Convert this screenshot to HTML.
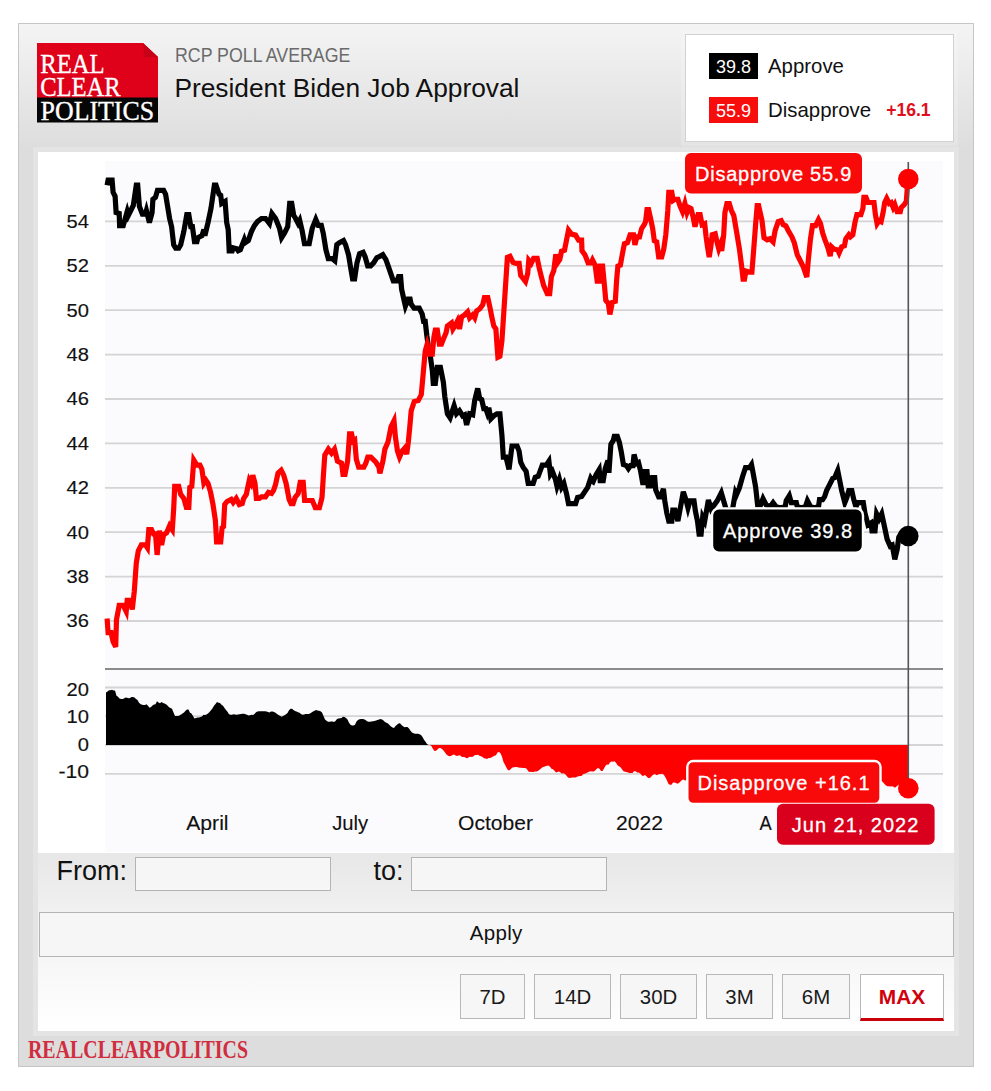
<!DOCTYPE html>
<html><head><meta charset="utf-8"><title>RCP Poll Average - President Biden Job Approval</title>
<style>
html,body{margin:0;padding:0;background:#fff;}
body{width:991px;height:1091px;position:relative;overflow:hidden;font-family:"Liberation Sans",sans-serif;color:#111;}
.wrap{position:absolute;left:18px;top:23px;width:956px;height:1044px;box-sizing:border-box;border:1px solid #c6c6c6;background:linear-gradient(to bottom,#f4f4f4 0px,#dddddd 125px,#dddddd 100%);}
.logo{position:absolute;left:37px;top:43px;}
.sub{position:absolute;left:174.6px;top:43.5px;font-size:19.8px;line-height:22px;color:#6a6a6a;white-space:nowrap;transform:scaleX(0.8976);transform-origin:0 0;}

.title{position:absolute;left:174.4px;top:71.5px;font-size:26.3px;line-height:32px;color:#111;white-space:nowrap;}
.legend{position:absolute;left:685px;top:34px;width:269px;height:108px;box-sizing:border-box;border:1px solid #d2d2d2;background:#fff;box-shadow:0 0 0 4px rgba(255,255,255,0.2);}
.lg{position:absolute;left:23px;height:26px;white-space:nowrap;}
.lg .v{display:inline-block;width:49px;height:26px;line-height:29px;text-align:center;color:#fff;font-size:18px;vertical-align:top;overflow:hidden;}
.lg .n{display:inline-block;margin-left:10px;font-size:20.4px;line-height:26px;vertical-align:top;color:#111;}
.lg .s{display:inline-block;margin-left:15px;font-size:17.6px;font-weight:bold;line-height:26.5px;vertical-align:top;color:#e0101a;}
.panel{position:absolute;left:38px;top:152px;width:915.5px;height:879px;box-sizing:border-box;background:#fff;box-shadow:0 0 0 5px rgba(255,255,255,0.22);}
.controls{position:absolute;left:38px;top:853.4px;width:915.5px;height:177.6px;background:linear-gradient(to bottom,#e7e7e7 0,#f1f1f1 60px,#ffffff 100%);}
.chart{position:absolute;left:0;top:0;}
.lab{position:absolute;font-size:27px;line-height:30px;color:#111;}
.inp{position:absolute;top:857px;width:196px;height:34px;box-sizing:border-box;border:1px solid #b4b4b4;background:#f6f6f6;}
.apply{position:absolute;left:38.5px;top:912px;width:915.5px;height:45px;box-sizing:border-box;border:1px solid #b4b4b4;background:#f6f6f6;text-align:center;font-size:20.5px;line-height:40.6px;letter-spacing:.3px;color:#111;}
.btn{position:absolute;top:974px;height:45px;box-sizing:border-box;border:1px solid #b8b8b8;background:#f6f6f6;text-align:center;font-size:20.4px;line-height:44.6px;color:#1a1a1a;}
.btn.max{border:1px solid #b8b8b8;border-bottom:3.4px solid #c9000a;background:#fff;color:#d0000c;font-weight:bold;font-size:20.9px;line-height:44.6px;}
.foot{position:absolute;left:28px;top:1036.2px;font-family:"Liberation Serif",serif;font-weight:bold;font-size:24.5px;line-height:28px;color:#d02d3f;white-space:nowrap;transform:scaleX(0.812);transform-origin:0 0;}
</style></head>
<body>
<div class="wrap"></div>
<svg class="logo" width="121" height="80" viewBox="0 0 121 80">
<path d="M0,0 H106 L121,14 V55 H0 Z" fill="#df0019"/>
<path d="M106,0 L121,14 H107.5 Z" fill="#c50017"/>
<rect x="0" y="54.5" width="121" height="25" fill="#060606"/>
<g font-family="Liberation Serif, serif" font-size="27.2" fill="#fff" stroke="#fff" stroke-width="0.35">
<text x="3.2" y="30.1" textLength="64.5" lengthAdjust="spacingAndGlyphs">REAL</text>
<text x="3.2" y="53.1" textLength="80.5" lengthAdjust="spacingAndGlyphs">CLEAR</text>
<text x="3.6" y="76.7" textLength="113.5" lengthAdjust="spacingAndGlyphs">POLITICS</text>
</g>
</svg>
<div class="sub">RCP POLL AVERAGE</div>
<div class="title">President Biden Job Approval</div>
<div class="legend">
 <div class="lg" style="top:18px"><span class="v" style="background:#000">39.8</span><span class="n">Approve</span></div>
 <div class="lg" style="top:62px"><span class="v" style="background:#f80d0d">55.9</span><span class="n">Disapprove</span><span class="s">+16.1</span></div>
</div>
<div class="panel"></div>
<div class="controls"></div>
<svg class="chart" width="991" height="1091" viewBox="0 0 991 1091">
<defs>
<clipPath id="cpos"><rect x="100" y="670" width="850" height="75.0"/></clipPath>
<clipPath id="cneg"><rect x="100" y="745.0" width="850" height="100"/></clipPath>
</defs>
<rect x="105" y="161" width="838" height="691" fill="#fbfbfe"/>
<g stroke="#d4d4d4" stroke-width="1.8"><line x1="105" x2="943" y1="621.0" y2="621.0"/><line x1="105" x2="943" y1="576.6" y2="576.6"/><line x1="105" x2="943" y1="532.2" y2="532.2"/><line x1="105" x2="943" y1="487.8" y2="487.8"/><line x1="105" x2="943" y1="443.4" y2="443.4"/><line x1="105" x2="943" y1="399.0" y2="399.0"/><line x1="105" x2="943" y1="354.6" y2="354.6"/><line x1="105" x2="943" y1="310.2" y2="310.2"/><line x1="105" x2="943" y1="265.8" y2="265.8"/><line x1="105" x2="943" y1="221.4" y2="221.4"/><line x1="105" x2="943" y1="687.5" y2="687.5"/><line x1="105" x2="943" y1="716.2" y2="716.2"/><line x1="105" x2="943" y1="745.0" y2="745.0"/><line x1="105" x2="943" y1="773.8" y2="773.8"/></g>
<line x1="105" x2="943" y1="669" y2="669" stroke="#666" stroke-width="1.6"/>
<g font-family="Liberation Sans, sans-serif" font-size="18" fill="#111" stroke="#111" stroke-width="0.15"><text x="89" y="627.3" text-anchor="end" textLength="22.4" lengthAdjust="spacingAndGlyphs">36</text><text x="89" y="582.9" text-anchor="end" textLength="22.4" lengthAdjust="spacingAndGlyphs">38</text><text x="89" y="538.5" text-anchor="end" textLength="22.4" lengthAdjust="spacingAndGlyphs">40</text><text x="89" y="494.1" text-anchor="end" textLength="22.4" lengthAdjust="spacingAndGlyphs">42</text><text x="89" y="449.7" text-anchor="end" textLength="22.4" lengthAdjust="spacingAndGlyphs">44</text><text x="89" y="405.3" text-anchor="end" textLength="22.4" lengthAdjust="spacingAndGlyphs">46</text><text x="89" y="360.9" text-anchor="end" textLength="22.4" lengthAdjust="spacingAndGlyphs">48</text><text x="89" y="316.5" text-anchor="end" textLength="22.4" lengthAdjust="spacingAndGlyphs">50</text><text x="89" y="272.1" text-anchor="end" textLength="22.4" lengthAdjust="spacingAndGlyphs">52</text><text x="89" y="227.7" text-anchor="end" textLength="22.4" lengthAdjust="spacingAndGlyphs">54</text><text x="89" y="696.0" text-anchor="end" textLength="22.4" lengthAdjust="spacingAndGlyphs">20</text><text x="89" y="723.3" text-anchor="end" textLength="22.4" lengthAdjust="spacingAndGlyphs">10</text><text x="89" y="750.6" text-anchor="end" textLength="11.2" lengthAdjust="spacingAndGlyphs">0</text><text x="89" y="777.9" text-anchor="end" textLength="30.5" lengthAdjust="spacingAndGlyphs">-10</text></g>
<g font-family="Liberation Sans, sans-serif" font-size="19.4" fill="#111" stroke="#111" stroke-width="0.12"><text x="186.2" y="829.5" textLength="42.4" lengthAdjust="spacingAndGlyphs">April</text><text x="332.2" y="829.5" textLength="36" lengthAdjust="spacingAndGlyphs">July</text><text x="458.0" y="829.5" textLength="75" lengthAdjust="spacingAndGlyphs">October</text><text x="616.0" y="829.5" textLength="47" lengthAdjust="spacingAndGlyphs">2022</text><text x="759.5" y="829.5" textLength="12.2" lengthAdjust="spacingAndGlyphs">A</text></g>
<path d="M106.0,745.0 L106.0,692.5 L107.5,691.6 L109.0,690.2 L110.5,690.2 L112.0,689.7 L113.5,690.5 L115.0,690.6 L116.5,695.7 L118.0,696.7 L119.5,698.6 L121.0,699.0 L122.5,699.0 L124.0,698.4 L125.5,697.4 L127.0,697.7 L128.5,698.3 L130.0,697.9 L131.5,696.9 L133.0,696.9 L134.5,697.6 L136.0,699.0 L137.5,700.1 L139.0,702.8 L140.5,704.1 L142.0,704.8 L143.5,704.9 L145.0,704.9 L146.5,704.3 L148.0,705.8 L149.5,707.7 L151.0,707.1 L152.5,705.5 L154.0,704.4 L155.5,704.2 L157.0,701.2 L158.5,702.5 L160.0,703.3 L161.5,702.1 L163.0,702.9 L164.5,703.6 L166.0,704.2 L167.5,705.6 L169.0,707.2 L170.5,708.1 L172.0,708.7 L173.5,712.5 L175.0,716.0 L176.5,716.1 L178.0,716.1 L179.5,715.6 L181.0,714.6 L182.5,713.5 L184.0,712.4 L185.5,710.8 L187.0,709.5 L188.5,709.5 L190.0,712.8 L191.5,713.5 L193.0,716.0 L194.5,718.4 L196.0,718.1 L197.5,717.6 L199.0,717.4 L200.5,717.1 L202.0,716.6 L203.5,714.7 L205.0,715.1 L206.5,714.5 L208.0,713.4 L209.5,711.9 L211.0,710.3 L212.5,708.2 L214.0,705.8 L215.5,704.1 L217.0,702.1 L218.5,702.7 L220.0,703.0 L221.5,704.8 L223.0,705.7 L224.5,707.9 L226.0,709.9 L227.5,711.7 L229.0,714.2 L230.5,714.8 L232.0,714.7 L233.5,714.2 L235.0,714.5 L236.5,714.7 L238.0,714.5 L239.5,714.2 L241.0,714.0 L242.5,713.7 L244.0,713.8 L245.5,714.3 L247.0,714.8 L248.5,715.4 L250.0,715.2 L251.5,714.7 L253.0,715.0 L254.5,714.0 L256.0,712.2 L257.5,711.5 L259.0,711.3 L260.5,711.3 L262.0,711.3 L263.5,711.3 L265.0,711.3 L266.5,711.6 L268.0,712.1 L269.5,712.4 L271.0,711.6 L272.5,711.4 L274.0,711.9 L275.5,712.7 L277.0,714.0 L278.5,715.1 L280.0,715.8 L281.5,716.7 L283.0,716.1 L284.5,715.3 L286.0,714.3 L287.5,713.0 L289.0,710.2 L290.5,708.8 L292.0,708.8 L293.5,710.1 L295.0,711.0 L296.5,711.6 L298.0,712.2 L299.5,712.8 L301.0,713.9 L302.5,714.7 L304.0,714.5 L305.5,713.9 L307.0,713.9 L308.5,713.9 L310.0,713.4 L311.5,712.5 L313.0,711.6 L314.5,710.7 L316.0,710.1 L317.5,710.6 L319.0,710.8 L320.5,711.3 L322.0,712.4 L323.5,716.0 L325.0,719.5 L326.5,720.7 L328.0,721.7 L329.5,721.8 L331.0,721.5 L332.5,721.6 L334.0,722.0 L335.5,721.0 L337.0,719.0 L338.5,718.5 L340.0,718.3 L341.5,718.1 L343.0,716.7 L344.5,716.9 L346.0,718.0 L347.5,719.5 L349.0,722.7 L350.5,724.8 L352.0,725.6 L353.5,725.4 L355.0,724.7 L356.5,721.5 L358.0,720.1 L359.5,719.2 L361.0,719.1 L362.5,719.0 L364.0,719.2 L365.5,720.1 L367.0,721.2 L368.5,721.8 L370.0,721.8 L371.5,721.6 L373.0,721.3 L374.5,720.9 L376.0,720.4 L377.5,719.9 L379.0,719.4 L380.5,719.0 L382.0,719.6 L383.5,720.6 L385.0,721.9 L386.5,722.7 L388.0,723.6 L389.5,725.0 L391.0,726.5 L392.5,727.4 L394.0,728.0 L395.5,726.0 L397.0,724.8 L398.5,723.5 L400.0,723.3 L401.5,725.0 L403.0,726.3 L404.5,727.3 L406.0,727.1 L407.5,727.1 L409.0,728.5 L410.5,730.8 L412.0,732.5 L413.5,733.3 L415.0,733.7 L416.5,733.8 L418.0,733.8 L419.5,734.2 L421.0,734.9 L422.5,737.1 L424.0,739.8 L425.5,741.8 L427.0,744.0 L428.5,744.9 L430.0,745.1 L431.5,746.3 L433.0,749.0 L434.5,751.0 L436.0,750.8 L437.5,749.4 L439.0,748.1 L440.5,747.9 L442.0,749.0 L443.5,750.4 L445.0,752.6 L446.5,754.4 L448.0,755.8 L449.5,756.2 L451.0,756.1 L452.5,755.1 L454.0,754.5 L455.5,755.4 L457.0,756.1 L458.5,755.5 L460.0,755.3 L461.5,756.7 L463.0,757.1 L464.5,757.1 L466.0,758.1 L467.5,758.3 L469.0,757.1 L470.5,756.8 L472.0,757.0 L473.5,756.3 L475.0,755.0 L476.5,754.9 L478.0,754.7 L479.5,755.7 L481.0,756.2 L482.5,756.9 L484.0,758.2 L485.5,758.5 L487.0,758.9 L488.5,758.1 L490.0,757.9 L491.5,757.4 L493.0,756.4 L494.5,755.7 L496.0,755.2 L497.5,752.5 L499.0,751.9 L500.5,753.3 L502.0,756.7 L503.5,762.0 L505.0,764.8 L506.5,767.8 L508.0,770.2 L509.5,770.3 L511.0,768.7 L512.5,767.4 L514.0,767.2 L515.5,767.1 L517.0,767.1 L518.5,767.6 L520.0,767.7 L521.5,767.7 L523.0,767.9 L524.5,767.9 L526.0,768.2 L527.5,769.9 L529.0,772.0 L530.5,771.8 L532.0,771.9 L533.5,772.1 L535.0,771.6 L536.5,771.5 L538.0,771.0 L539.5,769.7 L541.0,768.4 L542.5,767.3 L544.0,766.7 L545.5,766.3 L547.0,765.7 L548.5,765.4 L550.0,766.8 L551.5,768.8 L553.0,769.3 L554.5,770.7 L556.0,772.5 L557.5,772.1 L559.0,771.6 L560.5,772.6 L562.0,773.5 L563.5,773.3 L565.0,774.1 L566.5,775.7 L568.0,777.5 L569.5,778.0 L571.0,777.7 L572.5,777.6 L574.0,777.6 L575.5,777.5 L577.0,776.7 L578.5,776.2 L580.0,776.1 L581.5,776.1 L583.0,774.3 L584.5,773.8 L586.0,773.2 L587.5,772.4 L589.0,771.7 L590.5,771.2 L592.0,771.6 L593.5,771.5 L595.0,770.7 L596.5,769.0 L598.0,768.1 L599.5,768.8 L601.0,771.0 L602.5,771.0 L604.0,768.6 L605.5,765.7 L607.0,764.6 L608.5,764.8 L610.0,762.3 L611.5,761.6 L613.0,761.8 L614.5,761.3 L616.0,762.7 L617.5,765.2 L619.0,766.3 L620.5,767.2 L622.0,769.2 L623.5,771.2 L625.0,771.8 L626.5,772.0 L628.0,772.5 L629.5,772.9 L631.0,773.0 L632.5,773.0 L634.0,771.3 L635.5,771.3 L637.0,772.5 L638.5,772.4 L640.0,773.3 L641.5,775.0 L643.0,776.3 L644.5,775.1 L646.0,775.7 L647.5,777.5 L649.0,778.3 L650.5,777.4 L652.0,775.8 L653.5,774.4 L655.0,774.1 L656.5,775.3 L658.0,774.5 L659.5,774.1 L661.0,774.0 L662.5,773.8 L664.0,774.9 L665.5,777.5 L667.0,780.6 L668.5,784.0 L670.0,784.8 L671.5,784.8 L673.0,782.6 L674.5,782.6 L676.0,783.1 L677.5,783.8 L679.0,782.9 L680.5,781.4 L682.0,780.0 L683.5,779.4 L685.0,780.5 L686.5,780.3 L688.0,781.1 L689.5,780.7 L691.0,780.4 L692.5,779.7 L694.0,778.8 L695.5,779.7 L697.0,781.3 L698.5,783.1 L700.0,783.7 L701.5,782.4 L703.0,780.5 L704.5,781.0 L706.0,778.7 L707.5,776.3 L709.0,774.8 L710.5,776.3 L712.0,777.9 L713.5,777.9 L715.0,777.7 L716.5,776.8 L718.0,775.7 L719.5,775.2 L721.0,774.7 L722.5,775.6 L724.0,778.0 L725.5,781.0 L727.0,782.1 L728.5,782.1 L730.0,781.9 L731.5,781.3 L733.0,780.5 L734.5,778.7 L736.0,777.2 L737.5,775.9 L739.0,774.4 L740.5,772.4 L742.0,770.3 L743.5,768.6 L745.0,768.4 L746.5,768.8 L748.0,768.7 L749.5,768.7 L751.0,768.4 L752.5,769.9 L754.0,773.1 L755.5,776.5 L757.0,780.3 L758.5,781.3 L760.0,780.5 L761.5,779.4 L763.0,777.7 L764.5,776.9 L766.0,777.2 L767.5,777.2 L769.0,777.4 L770.5,777.4 L772.0,776.9 L773.5,776.9 L775.0,778.2 L776.5,779.0 L778.0,779.5 L779.5,779.7 L781.0,779.8 L782.5,779.4 L784.0,779.2 L785.5,778.9 L787.0,777.9 L788.5,777.2 L790.0,777.1 L791.5,777.3 L793.0,776.9 L794.5,776.4 L796.0,775.7 L797.5,775.5 L799.0,775.2 L800.5,774.9 L802.0,774.5 L803.5,774.1 L805.0,773.5 L806.5,772.5 L808.0,773.9 L809.5,776.1 L811.0,777.9 L812.5,779.1 L814.0,779.2 L815.5,779.2 L817.0,779.5 L818.5,779.8 L820.0,778.6 L821.5,777.9 L823.0,777.1 L824.5,776.3 L826.0,775.3 L827.5,774.3 L829.0,773.4 L830.5,772.7 L832.0,773.2 L833.5,772.8 L835.0,772.6 L836.5,772.1 L838.0,771.8 L839.5,772.6 L841.0,773.9 L842.5,774.9 L844.0,775.7 L845.5,776.6 L847.0,776.5 L848.5,776.1 L850.0,775.8 L851.5,775.9 L853.0,776.8 L854.5,778.6 L856.0,779.9 L857.5,780.0 L859.0,779.9 L860.5,779.9 L862.0,780.3 L863.5,781.6 L865.0,783.3 L866.5,783.8 L868.0,784.1 L869.5,783.9 L871.0,783.8 L872.5,784.8 L874.0,784.8 L875.5,782.6 L877.0,780.3 L878.5,780.9 L880.0,780.9 L881.5,780.7 L883.0,782.2 L884.5,784.1 L886.0,785.5 L887.5,786.2 L889.0,786.2 L890.5,786.6 L892.0,786.3 L893.5,786.8 L895.0,787.8 L896.5,786.5 L898.0,785.2 L899.5,784.3 L901.0,784.4 L902.5,784.6 L904.0,784.9 L905.5,785.2 L907.0,786.6 L908.3,788.3 L908.3,745.0 Z" fill="#000" clip-path="url(#cpos)"/>
<path d="M106.0,745.0 L106.0,692.5 L107.5,691.6 L109.0,690.2 L110.5,690.2 L112.0,689.7 L113.5,690.5 L115.0,690.6 L116.5,695.7 L118.0,696.7 L119.5,698.6 L121.0,699.0 L122.5,699.0 L124.0,698.4 L125.5,697.4 L127.0,697.7 L128.5,698.3 L130.0,697.9 L131.5,696.9 L133.0,696.9 L134.5,697.6 L136.0,699.0 L137.5,700.1 L139.0,702.8 L140.5,704.1 L142.0,704.8 L143.5,704.9 L145.0,704.9 L146.5,704.3 L148.0,705.8 L149.5,707.7 L151.0,707.1 L152.5,705.5 L154.0,704.4 L155.5,704.2 L157.0,701.2 L158.5,702.5 L160.0,703.3 L161.5,702.1 L163.0,702.9 L164.5,703.6 L166.0,704.2 L167.5,705.6 L169.0,707.2 L170.5,708.1 L172.0,708.7 L173.5,712.5 L175.0,716.0 L176.5,716.1 L178.0,716.1 L179.5,715.6 L181.0,714.6 L182.5,713.5 L184.0,712.4 L185.5,710.8 L187.0,709.5 L188.5,709.5 L190.0,712.8 L191.5,713.5 L193.0,716.0 L194.5,718.4 L196.0,718.1 L197.5,717.6 L199.0,717.4 L200.5,717.1 L202.0,716.6 L203.5,714.7 L205.0,715.1 L206.5,714.5 L208.0,713.4 L209.5,711.9 L211.0,710.3 L212.5,708.2 L214.0,705.8 L215.5,704.1 L217.0,702.1 L218.5,702.7 L220.0,703.0 L221.5,704.8 L223.0,705.7 L224.5,707.9 L226.0,709.9 L227.5,711.7 L229.0,714.2 L230.5,714.8 L232.0,714.7 L233.5,714.2 L235.0,714.5 L236.5,714.7 L238.0,714.5 L239.5,714.2 L241.0,714.0 L242.5,713.7 L244.0,713.8 L245.5,714.3 L247.0,714.8 L248.5,715.4 L250.0,715.2 L251.5,714.7 L253.0,715.0 L254.5,714.0 L256.0,712.2 L257.5,711.5 L259.0,711.3 L260.5,711.3 L262.0,711.3 L263.5,711.3 L265.0,711.3 L266.5,711.6 L268.0,712.1 L269.5,712.4 L271.0,711.6 L272.5,711.4 L274.0,711.9 L275.5,712.7 L277.0,714.0 L278.5,715.1 L280.0,715.8 L281.5,716.7 L283.0,716.1 L284.5,715.3 L286.0,714.3 L287.5,713.0 L289.0,710.2 L290.5,708.8 L292.0,708.8 L293.5,710.1 L295.0,711.0 L296.5,711.6 L298.0,712.2 L299.5,712.8 L301.0,713.9 L302.5,714.7 L304.0,714.5 L305.5,713.9 L307.0,713.9 L308.5,713.9 L310.0,713.4 L311.5,712.5 L313.0,711.6 L314.5,710.7 L316.0,710.1 L317.5,710.6 L319.0,710.8 L320.5,711.3 L322.0,712.4 L323.5,716.0 L325.0,719.5 L326.5,720.7 L328.0,721.7 L329.5,721.8 L331.0,721.5 L332.5,721.6 L334.0,722.0 L335.5,721.0 L337.0,719.0 L338.5,718.5 L340.0,718.3 L341.5,718.1 L343.0,716.7 L344.5,716.9 L346.0,718.0 L347.5,719.5 L349.0,722.7 L350.5,724.8 L352.0,725.6 L353.5,725.4 L355.0,724.7 L356.5,721.5 L358.0,720.1 L359.5,719.2 L361.0,719.1 L362.5,719.0 L364.0,719.2 L365.5,720.1 L367.0,721.2 L368.5,721.8 L370.0,721.8 L371.5,721.6 L373.0,721.3 L374.5,720.9 L376.0,720.4 L377.5,719.9 L379.0,719.4 L380.5,719.0 L382.0,719.6 L383.5,720.6 L385.0,721.9 L386.5,722.7 L388.0,723.6 L389.5,725.0 L391.0,726.5 L392.5,727.4 L394.0,728.0 L395.5,726.0 L397.0,724.8 L398.5,723.5 L400.0,723.3 L401.5,725.0 L403.0,726.3 L404.5,727.3 L406.0,727.1 L407.5,727.1 L409.0,728.5 L410.5,730.8 L412.0,732.5 L413.5,733.3 L415.0,733.7 L416.5,733.8 L418.0,733.8 L419.5,734.2 L421.0,734.9 L422.5,737.1 L424.0,739.8 L425.5,741.8 L427.0,744.0 L428.5,744.9 L430.0,745.1 L431.5,746.3 L433.0,749.0 L434.5,751.0 L436.0,750.8 L437.5,749.4 L439.0,748.1 L440.5,747.9 L442.0,749.0 L443.5,750.4 L445.0,752.6 L446.5,754.4 L448.0,755.8 L449.5,756.2 L451.0,756.1 L452.5,755.1 L454.0,754.5 L455.5,755.4 L457.0,756.1 L458.5,755.5 L460.0,755.3 L461.5,756.7 L463.0,757.1 L464.5,757.1 L466.0,758.1 L467.5,758.3 L469.0,757.1 L470.5,756.8 L472.0,757.0 L473.5,756.3 L475.0,755.0 L476.5,754.9 L478.0,754.7 L479.5,755.7 L481.0,756.2 L482.5,756.9 L484.0,758.2 L485.5,758.5 L487.0,758.9 L488.5,758.1 L490.0,757.9 L491.5,757.4 L493.0,756.4 L494.5,755.7 L496.0,755.2 L497.5,752.5 L499.0,751.9 L500.5,753.3 L502.0,756.7 L503.5,762.0 L505.0,764.8 L506.5,767.8 L508.0,770.2 L509.5,770.3 L511.0,768.7 L512.5,767.4 L514.0,767.2 L515.5,767.1 L517.0,767.1 L518.5,767.6 L520.0,767.7 L521.5,767.7 L523.0,767.9 L524.5,767.9 L526.0,768.2 L527.5,769.9 L529.0,772.0 L530.5,771.8 L532.0,771.9 L533.5,772.1 L535.0,771.6 L536.5,771.5 L538.0,771.0 L539.5,769.7 L541.0,768.4 L542.5,767.3 L544.0,766.7 L545.5,766.3 L547.0,765.7 L548.5,765.4 L550.0,766.8 L551.5,768.8 L553.0,769.3 L554.5,770.7 L556.0,772.5 L557.5,772.1 L559.0,771.6 L560.5,772.6 L562.0,773.5 L563.5,773.3 L565.0,774.1 L566.5,775.7 L568.0,777.5 L569.5,778.0 L571.0,777.7 L572.5,777.6 L574.0,777.6 L575.5,777.5 L577.0,776.7 L578.5,776.2 L580.0,776.1 L581.5,776.1 L583.0,774.3 L584.5,773.8 L586.0,773.2 L587.5,772.4 L589.0,771.7 L590.5,771.2 L592.0,771.6 L593.5,771.5 L595.0,770.7 L596.5,769.0 L598.0,768.1 L599.5,768.8 L601.0,771.0 L602.5,771.0 L604.0,768.6 L605.5,765.7 L607.0,764.6 L608.5,764.8 L610.0,762.3 L611.5,761.6 L613.0,761.8 L614.5,761.3 L616.0,762.7 L617.5,765.2 L619.0,766.3 L620.5,767.2 L622.0,769.2 L623.5,771.2 L625.0,771.8 L626.5,772.0 L628.0,772.5 L629.5,772.9 L631.0,773.0 L632.5,773.0 L634.0,771.3 L635.5,771.3 L637.0,772.5 L638.5,772.4 L640.0,773.3 L641.5,775.0 L643.0,776.3 L644.5,775.1 L646.0,775.7 L647.5,777.5 L649.0,778.3 L650.5,777.4 L652.0,775.8 L653.5,774.4 L655.0,774.1 L656.5,775.3 L658.0,774.5 L659.5,774.1 L661.0,774.0 L662.5,773.8 L664.0,774.9 L665.5,777.5 L667.0,780.6 L668.5,784.0 L670.0,784.8 L671.5,784.8 L673.0,782.6 L674.5,782.6 L676.0,783.1 L677.5,783.8 L679.0,782.9 L680.5,781.4 L682.0,780.0 L683.5,779.4 L685.0,780.5 L686.5,780.3 L688.0,781.1 L689.5,780.7 L691.0,780.4 L692.5,779.7 L694.0,778.8 L695.5,779.7 L697.0,781.3 L698.5,783.1 L700.0,783.7 L701.5,782.4 L703.0,780.5 L704.5,781.0 L706.0,778.7 L707.5,776.3 L709.0,774.8 L710.5,776.3 L712.0,777.9 L713.5,777.9 L715.0,777.7 L716.5,776.8 L718.0,775.7 L719.5,775.2 L721.0,774.7 L722.5,775.6 L724.0,778.0 L725.5,781.0 L727.0,782.1 L728.5,782.1 L730.0,781.9 L731.5,781.3 L733.0,780.5 L734.5,778.7 L736.0,777.2 L737.5,775.9 L739.0,774.4 L740.5,772.4 L742.0,770.3 L743.5,768.6 L745.0,768.4 L746.5,768.8 L748.0,768.7 L749.5,768.7 L751.0,768.4 L752.5,769.9 L754.0,773.1 L755.5,776.5 L757.0,780.3 L758.5,781.3 L760.0,780.5 L761.5,779.4 L763.0,777.7 L764.5,776.9 L766.0,777.2 L767.5,777.2 L769.0,777.4 L770.5,777.4 L772.0,776.9 L773.5,776.9 L775.0,778.2 L776.5,779.0 L778.0,779.5 L779.5,779.7 L781.0,779.8 L782.5,779.4 L784.0,779.2 L785.5,778.9 L787.0,777.9 L788.5,777.2 L790.0,777.1 L791.5,777.3 L793.0,776.9 L794.5,776.4 L796.0,775.7 L797.5,775.5 L799.0,775.2 L800.5,774.9 L802.0,774.5 L803.5,774.1 L805.0,773.5 L806.5,772.5 L808.0,773.9 L809.5,776.1 L811.0,777.9 L812.5,779.1 L814.0,779.2 L815.5,779.2 L817.0,779.5 L818.5,779.8 L820.0,778.6 L821.5,777.9 L823.0,777.1 L824.5,776.3 L826.0,775.3 L827.5,774.3 L829.0,773.4 L830.5,772.7 L832.0,773.2 L833.5,772.8 L835.0,772.6 L836.5,772.1 L838.0,771.8 L839.5,772.6 L841.0,773.9 L842.5,774.9 L844.0,775.7 L845.5,776.6 L847.0,776.5 L848.5,776.1 L850.0,775.8 L851.5,775.9 L853.0,776.8 L854.5,778.6 L856.0,779.9 L857.5,780.0 L859.0,779.9 L860.5,779.9 L862.0,780.3 L863.5,781.6 L865.0,783.3 L866.5,783.8 L868.0,784.1 L869.5,783.9 L871.0,783.8 L872.5,784.8 L874.0,784.8 L875.5,782.6 L877.0,780.3 L878.5,780.9 L880.0,780.9 L881.5,780.7 L883.0,782.2 L884.5,784.1 L886.0,785.5 L887.5,786.2 L889.0,786.2 L890.5,786.6 L892.0,786.3 L893.5,786.8 L895.0,787.8 L896.5,786.5 L898.0,785.2 L899.5,784.3 L901.0,784.4 L902.5,784.6 L904.0,784.9 L905.5,785.2 L907.0,786.6 L908.3,788.3 L908.3,745.0 Z" fill="#f00" clip-path="url(#cneg)"/>
<path d="M107.1,185.2 L108.1,180.2 L112.1,180.2 L113.1,192.3 L115.1,196.3 L116.1,212.5 L119.2,213.5 L119.6,225.6 L123.2,225.6 L127.2,211.5 L128.3,215.5 L133.3,205.4 L136.3,185.2 L137.7,185.2 L139.4,206.4 L142.4,214.1 L145.4,214.1 L146.4,210.5 L149.4,222.6 L152.1,212.5 L152.9,199.4 L155.5,197.3 L157.5,190.3 L163.6,190.3 L165.6,194.3 L169.6,218.5 L171.6,226.6 L173.7,244.8 L175.7,248.2 L178.7,248.2 L180.7,244.8 L183.8,231.6 L186.8,214.5 L188.8,214.5 L190.8,226.6 L192.4,226.6 L194.5,241.7 L196.9,241.7 L197.9,237.7 L201.9,235.7 L203.9,229.6 L204.9,235.7 L208.0,222.6 L211.0,208.4 L214.4,185.2 L216.0,185.2 L219.1,194.3 L220.7,195.3 L221.7,203.4 L225.1,201.4 L226.7,222.6 L228.2,229.6 L229.2,250.8 L232.2,250.8 L233.2,247.8 L236.8,248.8 L238.2,250.8 L240.3,249.8 L242.3,244.8 L244.3,239.7 L245.3,242.7 L248.3,240.7 L251.4,231.6 L254.4,225.6 L257.4,221.6 L261.5,218.5 L265.5,218.5 L269.5,223.6 L271.9,213.5 L275.6,218.5 L279.6,228.6 L281.6,237.7 L284.7,232.7 L287.7,226.6 L289.7,203.4 L291.7,203.4 L293.7,215.5 L295.0,217.3 L298.1,223.4 L299.7,220.4 L302.1,230.5 L304.5,243.6 L309.2,243.6 L312.2,228.4 L315.8,219.4 L318.3,225.4 L321.3,225.4 L323.3,233.5 L325.9,249.6 L328.3,258.7 L332.4,258.7 L334.8,260.7 L336.8,244.6 L339.4,242.6 L343.5,240.5 L345.5,244.6 L348.5,254.7 L350.5,266.8 L352.6,278.9 L354.6,278.9 L357.0,262.7 L359.6,253.7 L363.1,252.3 L365.1,256.7 L367.7,265.8 L370.7,265.8 L373.8,262.7 L376.8,257.7 L379.8,256.3 L382.8,254.7 L385.9,259.7 L388.5,266.8 L390.9,273.8 L393.3,280.9 L397.0,280.9 L398.6,276.5 L400.6,276.5 L401.6,289.0 L403.6,298.1 L405.4,306.1 L408.1,299.1 L410.1,299.1 L411.1,304.1 L414.1,308.2 L419.2,308.2 L422.2,314.2 L423.6,321.3 L425.2,321.3 L426.8,335.4 L429.3,353.6 L430.3,356.2 L432.3,370.4 L433.3,383.5 L435.3,383.5 L437.3,367.3 L440.4,367.3 L443.4,382.5 L444.8,396.6 L447.4,413.8 L450.1,417.8 L454.1,405.7 L456.5,413.8 L459.5,410.7 L462.6,415.8 L464.6,414.8 L466.6,424.9 L469.6,413.8 L472.7,414.8 L474.7,400.6 L477.7,388.5 L479.7,398.6 L481.7,399.6 L483.8,408.7 L485.8,408.7 L487.2,412.7 L488.8,407.7 L490.8,418.8 L493.8,415.8 L496.9,413.8 L499.9,413.8 L501.9,434.9 L503.3,457.1 L506.0,457.1 L509.0,469.3 L512.0,446.0 L517.1,446.0 L519.1,451.1 L520.7,462.2 L523.1,467.2 L526.1,471.3 L528.2,483.4 L533.2,483.4 L535.2,477.3 L538.2,476.3 L542.3,465.2 L546.3,465.2 L548.9,461.2 L550.4,474.3 L552.4,471.3 L555.4,479.3 L557.0,486.4 L559.4,479.3 L561.5,487.4 L563.9,483.4 L566.5,493.5 L568.5,503.6 L575.6,503.6 L577.6,497.5 L581.6,496.5 L587.7,487.4 L590.7,478.3 L592.7,481.4 L593.1,481.7 L596.1,474.7 L599.2,469.6 L600.2,480.7 L603.2,480.7 L605.2,468.6 L607.9,460.5 L608.9,472.7 L610.9,444.4 L613.3,440.4 L614.3,436.3 L617.3,436.3 L619.4,442.4 L621.4,452.5 L623.4,464.6 L626.4,465.6 L628.4,468.6 L630.5,465.6 L632.9,465.6 L634.1,454.5 L636.5,463.6 L638.5,462.6 L640.5,470.6 L643.0,484.8 L644.6,471.6 L647.0,471.6 L648.2,485.8 L650.6,485.8 L652.3,477.7 L654.7,477.7 L655.7,489.8 L658.7,496.9 L660.7,496.9 L663.4,488.8 L664.8,500.9 L666.8,513.0 L668.8,521.1 L671.8,521.1 L672.8,510.0 L674.9,510.0 L677.9,521.1 L680.9,504.9 L683.3,491.8 L686.0,499.9 L688.0,508.0 L690.0,500.9 L694.0,500.9 L695.4,511.0 L697.5,521.1 L699.1,534.2 L701.1,534.2 L702.7,517.1 L704.7,521.1 L708.4,499.9 L711.2,509.0 L714.2,504.9 L717.2,500.9 L721.3,492.8 L724.3,502.9 L726.3,510.0 L732.4,510.0 L735.4,492.8 L736.4,494.9 L739.4,487.8 L742.5,476.7 L745.5,467.6 L749.5,467.6 L751.5,464.6 L753.6,475.7 L755.6,486.8 L757.6,504.9 L760.6,504.9 L763.0,498.7 L766.1,504.8 L770.1,506.8 L773.1,502.7 L776.1,506.8 L780.2,507.8 L785.2,506.8 L786.2,500.7 L789.3,495.7 L791.3,502.7 L796.3,502.7 L797.3,506.8 L801.4,507.8 L805.4,506.8 L807.4,500.7 L810.5,506.8 L814.5,507.8 L818.5,506.8 L819.5,499.7 L822.6,499.7 L824.6,496.7 L826.6,490.6 L829.6,484.6 L832.7,478.5 L834.7,477.5 L837.7,470.5 L839.7,480.5 L841.7,490.6 L844.8,502.7 L846.8,497.7 L848.8,490.6 L851.8,490.6 L853.8,499.7 L855.9,506.8 L857.9,502.7 L863.3,502.7 L864.9,512.8 L868.0,524.9 L871.0,522.9 L872.0,531.0 L875.0,531.0 L876.6,513.8 L879.1,518.9 L881.7,513.8 L884.1,524.9 L887.1,539.1 L890.2,546.1 L892.2,545.1 L894.8,559.3 L897.2,549.2 L898.8,537.1 L901.3,533.0 L908.3,536.0" fill="none" stroke="#000" stroke-width="5.2" stroke-linejoin="miter" stroke-miterlimit="4"/>
<path d="M107.1,618.5 L108.1,632.6 L111.1,632.6 L113.1,641.7 L115.7,646.8 L116.5,619.5 L119.2,605.4 L123.2,605.4 L126.2,611.5 L127.2,600.4 L130.3,600.4 L132.3,609.4 L134.3,591.3 L136.3,563.0 L138.3,550.9 L141.4,544.9 L145.4,544.9 L147.4,547.9 L148.8,529.7 L151.5,529.7 L153.5,533.8 L155.5,533.8 L157.1,554.9 L159.5,530.7 L161.6,544.9 L163.6,534.8 L166.6,532.7 L169.6,525.7 L172.3,529.7 L173.7,508.5 L174.7,486.3 L178.7,486.3 L180.7,494.4 L183.8,498.4 L186.4,507.5 L188.8,507.5 L189.8,487.3 L191.8,486.3 L193.8,460.1 L196.9,465.1 L199.9,465.1 L201.9,469.2 L203.9,483.3 L206.0,480.3 L208.0,483.3 L210.6,492.4 L213.0,504.5 L215.4,520.6 L216.6,541.8 L220.7,541.8 L222.1,527.7 L223.5,526.7 L224.7,504.5 L227.1,501.5 L231.2,499.4 L233.2,502.5 L236.2,498.4 L239.3,504.5 L242.3,503.5 L243.7,498.4 L246.3,494.4 L249.3,480.3 L251.0,483.3 L252.8,475.2 L255.0,483.3 L256.4,498.4 L259.4,498.4 L261.5,496.8 L265.5,496.8 L268.5,492.4 L271.5,493.4 L273.6,490.4 L275.6,484.3 L278.0,473.2 L281.2,470.2 L283.7,475.2 L286.1,483.4 L289.1,499.5 L291.1,503.6 L293.1,503.6 L295.1,497.5 L298.2,493.5 L300.2,482.4 L303.2,482.4 L304.6,500.5 L308.3,500.5 L312.3,500.5 L315.3,507.6 L319.4,507.6 L322.0,497.5 L323.4,475.3 L324.8,455.1 L328.4,449.1 L331.5,453.1 L334.5,449.1 L337.5,461.2 L341.6,463.2 L343.0,474.3 L345.0,474.3 L347.6,461.2 L349.6,433.9 L351.6,433.9 L353.1,441.0 L354.7,440.0 L356.3,459.2 L358.7,467.2 L363.8,467.2 L365.8,463.2 L367.8,457.1 L370.8,457.1 L375.9,462.2 L378.9,467.2 L379.9,473.3 L382.9,461.2 L384.9,449.1 L388.0,442.0 L391.0,426.9 L394.0,420.8 L395.4,437.0 L397.5,451.1 L399.5,457.1 L402.1,451.1 L404.7,448.1 L406.7,454.1 L408.2,443.0 L409.6,428.9 L411.2,410.7 L414.2,401.6 L418.2,400.6 L421.3,394.6 L423.2,373.4 L425.2,351.2 L427.2,344.1 L429.9,354.2 L432.3,354.2 L433.9,337.1 L435.3,330.0 L437.3,330.0 L439.4,344.1 L441.4,344.1 L443.4,339.1 L446.0,333.0 L447.4,326.0 L451.5,322.9 L452.9,329.0 L455.5,324.9 L457.5,320.9 L459.5,329.0 L461.6,316.9 L464.6,314.9 L467.6,311.8 L469.6,317.9 L472.7,314.9 L474.7,317.9 L476.7,310.8 L479.7,308.8 L482.7,304.8 L484.4,297.7 L487.8,297.7 L489.8,306.8 L491.8,316.9 L493.8,326.0 L495.9,329.0 L496.9,344.1 L497.9,357.2 L499.9,356.2 L501.9,341.1 L503.9,310.8 L506.0,278.5 L507.4,257.3 L510.0,256.3 L513.0,262.4 L516.0,263.4 L519.1,263.4 L520.7,275.5 L523.1,278.5 L525.5,281.6 L527.7,273.5 L528.8,260.4 L531.2,263.4 L533.6,258.3 L537.2,258.3 L539.3,268.4 L541.3,276.5 L543.7,285.6 L547.3,293.7 L549.7,293.7 L551.4,276.5 L553.8,270.5 L555.8,254.3 L557.8,262.4 L559.8,259.4 L561.5,251.3 L564.5,250.3 L566.5,240.2 L568.5,230.1 L571.5,234.1 L575.6,235.1 L578.6,240.2 L581.6,240.2 L582.0,250.9 L585.0,254.9 L588.1,263.0 L591.1,263.0 L592.5,260.0 L595.1,265.0 L597.2,281.2 L599.2,281.2 L600.2,266.0 L602.6,266.0 L604.6,287.2 L605.8,300.4 L608.3,303.4 L609.9,314.5 L612.3,302.4 L615.3,301.4 L616.7,279.2 L617.9,266.0 L620.4,265.0 L622.4,253.9 L624.4,243.8 L627.4,242.8 L630.1,234.8 L633.5,234.8 L634.9,244.9 L636.9,236.8 L639.5,236.8 L641.6,228.7 L644.2,224.7 L645.6,221.6 L647.0,209.5 L648.6,209.5 L650.6,218.6 L652.7,228.7 L654.3,240.8 L656.7,241.8 L658.7,257.0 L661.7,257.0 L663.8,248.9 L665.8,234.8 L667.8,210.5 L668.8,192.4 L671.8,192.4 L673.2,200.5 L674.9,199.4 L677.9,199.4 L679.9,205.5 L682.5,211.6 L684.9,203.5 L687.0,212.6 L689.0,207.5 L691.0,208.5 L693.0,216.6 L695.0,226.7 L698.1,214.6 L700.1,214.6 L702.1,224.7 L704.7,223.7 L706.1,236.8 L707.5,246.9 L709.2,257.0 L710.8,246.9 L712.2,234.8 L715.2,233.8 L717.2,242.8 L718.8,248.9 L720.3,244.9 L721.7,250.9 L723.7,234.8 L724.9,212.6 L726.9,203.5 L729.3,203.5 L731.4,210.5 L733.8,215.6 L736.4,230.7 L739.4,248.9 L741.5,265.0 L743.1,279.2 L744.5,279.2 L745.9,271.1 L749.1,272.1 L751.9,272.1 L753.6,250.9 L755.6,224.7 L757.2,205.5 L758.6,205.5 L762.0,220.6 L764.0,237.8 L767.1,239.8 L770.1,238.8 L773.1,241.8 L775.1,230.7 L778.2,221.6 L781.2,220.6 L783.2,224.7 L785.8,225.7 L788.3,230.7 L791.9,236.8 L794.3,242.8 L797.3,254.9 L800.4,261.0 L803.4,267.1 L806.8,277.1 L808.4,259.0 L810.5,238.8 L812.5,225.7 L815.5,225.7 L818.5,219.6 L820.5,223.7 L822.6,232.7 L824.6,238.8 L827.6,246.9 L830.2,256.0 L831.6,246.9 L833.7,248.9 L837.7,249.9 L839.1,252.9 L841.7,246.9 L844.4,245.9 L845.8,238.8 L848.8,234.8 L850.4,236.8 L852.8,234.8 L854.9,222.7 L856.9,214.6 L860.9,214.6 L862.9,208.5 L863.9,197.4 L866.0,197.4 L868.0,202.5 L874.0,202.5 L875.4,214.6 L877.1,223.7 L879.1,220.6 L881.1,221.6 L883.1,212.6 L884.7,202.5 L886.7,198.4 L889.2,203.5 L891.2,202.5 L893.2,207.5 L894.8,204.5 L897.2,211.6 L900.3,211.6 L901.3,207.5 L904.3,204.5 L906.3,201.5 L907.3,188.3 L908.3,179.3" fill="none" stroke="#f00" stroke-width="5.2" stroke-linejoin="miter" stroke-miterlimit="4"/>
<line x1="908.3" x2="908.3" y1="162" y2="790" stroke="#555" stroke-width="1.6"/>
<circle cx="908.3" cy="179" r="10.3" fill="#f00"/>
<circle cx="908.3" cy="536" r="10.3" fill="#000"/>
<circle cx="908.3" cy="788.2" r="10.3" fill="#f00"/>
<g font-family="Liberation Sans, sans-serif" font-size="20" fill="#fff" stroke-width="0">
<rect x="685" y="153" width="177" height="40.5" rx="6" fill="#f90a0a"/>
<text x="695" y="181.3" textLength="156.3" lengthAdjust="spacing" stroke="#fff" stroke-width="0.3">Disapprove 55.9</text>
<rect x="712" y="508.4" width="151" height="44.2" rx="7" fill="#000" stroke="#fff" stroke-width="2.4"/>
<text x="723" y="538" textLength="129" lengthAdjust="spacing" stroke="#fff" stroke-width="0.3">Approve 39.8</text>
<rect x="687.3" y="761" width="193.2" height="43" rx="6" fill="#f90a0a" stroke="#fff" stroke-width="2.4"/>
<text x="697.5" y="790" textLength="172" lengthAdjust="spacing" stroke="#fff" stroke-width="0.3">Disapprove +16.1</text>
<rect x="777" y="803.8" width="157.6" height="40.9" rx="6" fill="#d8001c"/>
<text x="791.8" y="831.7" textLength="126.5" lengthAdjust="spacing" stroke="#fff" stroke-width="0.3">Jun 21, 2022</text>
</g>
</svg>
<div class="lab" style="left:56.5px;top:856px">From:</div>
<div class="inp" style="left:135px"></div>
<div class="lab" style="left:373.5px;top:856px">to:</div>
<div class="inp" style="left:411px"></div>
<div class="apply">Apply</div>
<div class="btn" style="left:460px;width:65px">7D</div>
<div class="btn" style="left:534px;width:77px">14D</div>
<div class="btn" style="left:620px;width:77px">30D</div>
<div class="btn" style="left:706px;width:67px">3M</div>
<div class="btn" style="left:782px;width:68px">6M</div>
<div class="btn max" style="left:860px;width:84px;height:47px">MAX</div>
<div class="foot">REALCLEARPOLITICS</div>
</body></html>
